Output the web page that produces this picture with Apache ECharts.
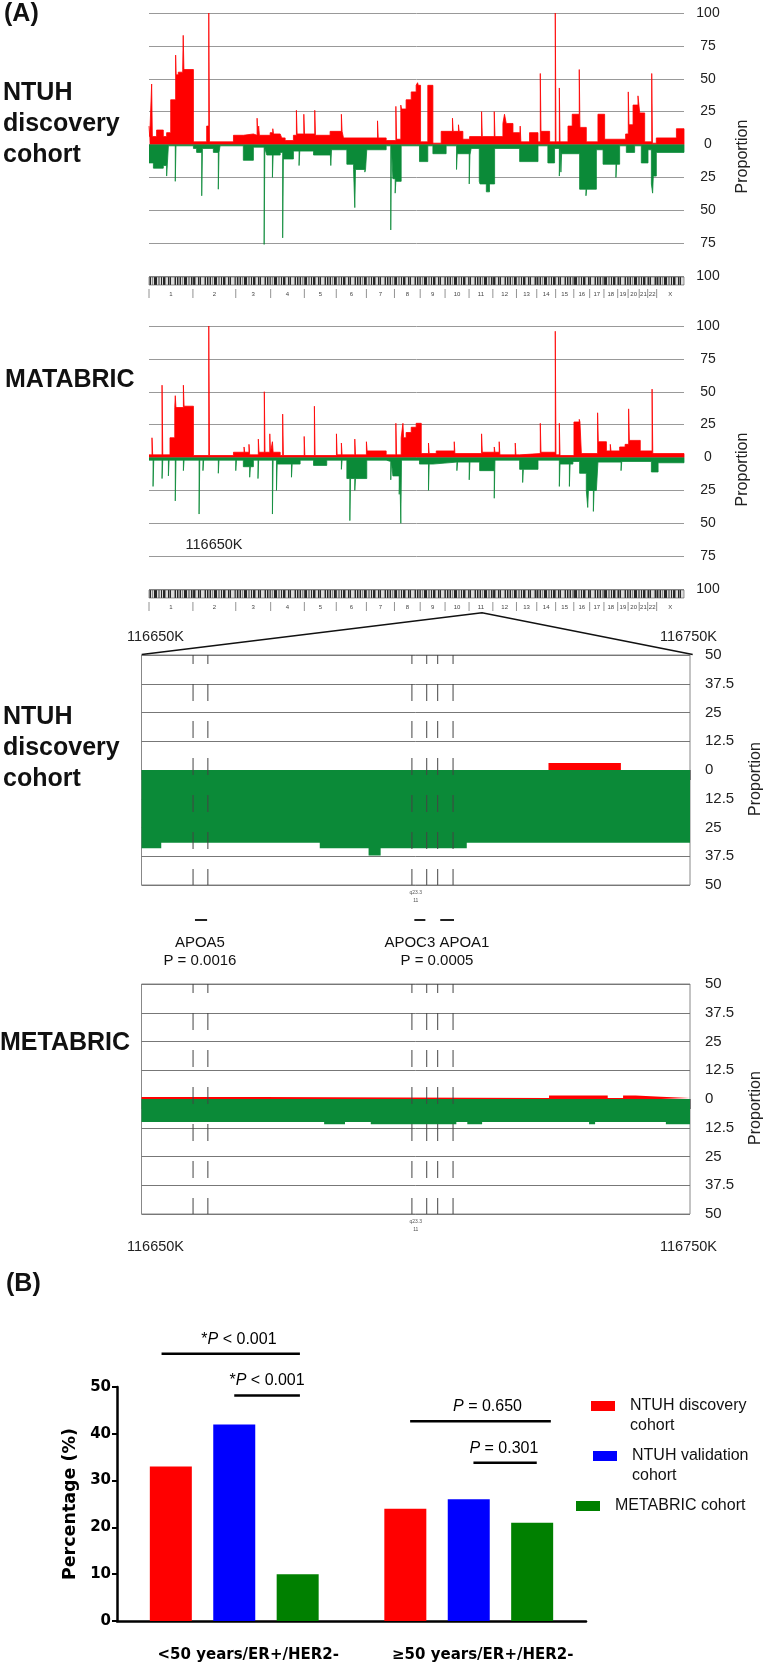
<!DOCTYPE html>
<html>
<head>
<meta charset="utf-8">
<script src="https://cdn.jsdelivr.net/npm/echarts@6/dist/echarts.min.js"></script>
<style>
  html, body { margin: 0; padding: 0; background: #fff; }
  #main { width: 772px; height: 1665px; }
</style>
</head>
<body>
<div id="main"></div>
<script>
// ---------- data ----------
// chromosome lengths (Mb) for the genome-wide x axis
const chromNames = ['1','2','3','4','5','6','7','8','9','10','11','12','13','14','15','16','17','18','19','20','21','22','X'];
const chromLengths = [249,243,198,191,181,171,159,146,141,136,135,134,115,107,103,90,81,78,59,63,48,51,155];

// genome-wide copy number frequency, [cumulative position Mb, proportion %] breakpoints
const ntuhGain = [[0,14],[4,6],[15,46],[19,6],[43,11],[81,6],[100,9],[123,34],[151,68],[154,53],[166,55],[191,57],[194,83],[198,57],[252,2],[327,14],[339,100],[343,2],[479,7],[535,8],[592,7],[613,20],[617,8],[622,14],[626,7],[687,9],[702,12],[706,8],[744,7],[753,5],[772,3],[819,7],[836,26],[840,8],[878,23],[882,8],[940,26],[944,7],[1027,10],[1091,23],[1095,10],[1103,5],[1296,18],[1300,5],[1345,3],[1400,29],[1404,4],[1428,30],[1432,27],[1458,34],[1487,40],[1515,45],[1523,47],[1527,45],[1540,2],[1581,45],[1610,1],[1657,10],[1721,20],[1725,10],[1755,15],[1759,10],[1780,4],[1818,6],[1886,25],[1890,6],[1958,25],[1962,6],[2007,16],[2016,23],[2026,16],[2064,9],[2102,2],[2105,14],[2109,2],[2158,9],[2206,2],[2219,54],[2223,10],[2272,2],[2304,100],[2308,2],[2327,43],[2331,2],[2376,14],[2400,23],[2440,57],[2444,13],[2480,2],[2546,23],[2584,4],[2703,8],[2718,40],[2722,15],[2745,30],[2773,37],[2783,24],[2811,2],[2851,54],[2855,1],[2877,5],[2991,12],[3034,0]];
const ntuhLoss = [[0,14],[25,18],[81,16],[100,24],[110,1],[149,28],[153,1],[252,3],[270,6],[299,39],[303,3],[365,6],[393,34],[397,6],[403,1],[535,12],[592,2],[653,76],[657,3],[668,8],[700,25],[704,8],[744,6],[758,71],[762,11],[819,5],[851,16],[855,5],[933,8],[1027,3],[1031,16],[1035,4],[1122,15],[1160,19],[1167,48],[1171,19],[1224,21],[1228,19],[1235,4],[1345,1],[1371,65],[1375,1],[1383,26],[1396,37],[1400,28],[1430,1],[1534,13],[1581,1],[1610,7],[1685,1],[1744,19],[1748,7],[1816,30],[1820,8],[1827,3],[1873,28],[1877,30],[1913,36],[1931,30],[1960,3],[2102,13],[2206,1],[2262,14],[2300,3],[2327,24],[2331,3],[2336,21],[2340,7],[2442,34],[2478,39],[2482,34],[2537,4],[2575,15],[2648,25],[2652,15],[2669,1],[2707,6],[2754,1],[2792,14],[2830,4],[2849,30],[2856,37],[2860,24],[2877,6],[3034,0]];
const metabricGain = [[0,2],[17,15],[21,2],[74,55],[78,2],[119,15],[146,38],[149,47],[153,38],[195,55],[199,39],[252,1.5],[339,100],[343,1.5],[479,4],[539,8],[543,4],[567,10],[571,2],[620,14],[624,4],[654,50],[658,4],[685,18],[689,4],[700,12],[704,4],[744,1.5],[758,33],[762,1.5],[880,16],[884,1.5],[938,39],[942,1.5],[1063,18],[1067,2],[1091,11],[1095,2],[1167,14],[1171,2],[1233,12],[1237,5],[1345,2],[1400,26],[1404,2],[1430,15],[1440,26],[1444,15],[1458,19],[1487,23],[1515,26],[1544,3],[1585,11],[1589,3],[1629,5],[1731,12],[1735,3],[1886,18],[1890,4],[1958,8],[1962,4],[1986,12],[1990,2],[2077,11],[2081,2],[2102,3],[2219,26],[2223,4],[2304,96],[2308,2],[2327,26],[2331,1.5],[2410,27],[2440,29],[2444,27],[2452,3],[2544,34],[2548,12],[2594,5],[2616,10],[2620,5],[2669,8],[2700,10],[2720,37],[2724,13],[2786,5],[2853,52],[2857,3],[3034,0]];
const metabricLoss = [[0,2],[23,22],[27,2],[74,16],[78,2],[110,14],[114,2],[149,33],[153,2],[195,10],[199,2],[284,43],[288,2],[306,10],[310,2],[393,12],[397,2],[492,10],[496,2],[535,7],[571,15],[575,7],[592,2],[618,16],[622,2],[700,43],[704,2],[723,25],[727,5],[808,15],[812,5],[857,2],[933,6],[1008,2],[1091,9],[1095,2],[1122,16],[1139,48],[1143,16],[1167,25],[1171,16],[1235,2],[1345,3],[1371,17],[1375,3],[1383,14],[1419,28],[1423,14],[1428,50],[1432,2],[1534,5],[1585,25],[1589,5],[1610,3.5],[1746,10],[1750,3.5],[1816,17],[1820,3.5],[1875,10],[1958,31],[1962,2],[2102,9],[2119,19],[2123,9],[2206,2],[2327,22],[2331,5],[2384,22],[2388,5],[2404,3],[2442,12],[2480,25],[2488,38],[2492,25],[2520,41],[2524,25],[2537,24],[2546,3.5],[2677,10],[2681,3],[2849,11],[2887,4],[3034,0]];

// 11q23.3 zoom, position in kb
const zoomStart = 116650;
const zoomEnd = 116750;
const ntuhZoomGain = [[116650,0],[116724.2,3],[116737.4,0],[116750,0]];
const ntuhZoomLoss = [[116650,34],[116653.6,31.6],[116682.5,34],[116691.4,37.2],[116693.6,34],[116709.3,31.6],[116750,0]];
const metabricZoomGain = [[116650,0.9],[116671.9,0.4],[116724.3,1.5],[116735,0.4],[116737.8,1.5],[116740.1,1],[116744.7,0.4],[116750,0]];
const metabricZoomLoss = [[116650,10],[116683.3,11],[116687.1,10],[116691.8,11],[116707.4,10],[116709.4,11],[116712.1,10],[116731.6,11],[116732.7,10],[116745.6,11],[116750,0]];

const geneNames = ['APOA5', 'APOC3', 'APOA1'];
const geneStart = [116659.7, 116699.5, 116704.2];
const geneEnd = [116661.9, 116701.5, 116706.7];
const geneGuides = [116659.4, 116662.1, 116699.3, 116702.0, 116704.0, 116706.8];
const geneLabelPos = [116660.6, 116703.6];
const geneLabelText = ['APOA5\nP = 0.0016', 'APOC3 APOA1\nP = 0.0005'];

// panel B
const groups = ['<50 years/ER+/HER2-', '≥50 years/ER+/HER2-'];
const cohorts = ['NTUH discovery cohort', 'NTUH validation cohort', 'METABRIC cohort'];
const ntuhDiscovery = [33, 24];
const ntuhValidation = [42, 26];
const metabricCohort = [10, 21];
// comparison brackets, x in group units (group i spans i..i+1)
const sigFrom = [0.19, 0.50, 1.25, 1.52];
const sigTo = [0.78, 0.78, 1.85, 1.79];
const sigLevel = [57.1, 48.2, 42.7, 33.8];
const sigTextPos = [0.52, 0.64, 1.58, 1.65];
const sigText = ['*P < 0.001', '*P < 0.001', 'P = 0.650', 'P = 0.301'];

// ---------- helpers ----------
const RED = '#ff0000';
const GREEN = '#0b8a38';
const FONT = 'Liberation Sans, Arial, sans-serif';

const chromStart = [];
chromLengths.reduce((acc, l) => { chromStart.push(acc); return acc + l; }, 0);
const genomeEnd = chromLengths.reduce((a, b) => a + b, 0);
const chromData = chromLengths.map((l, i) => [chromStart[i], chromStart[i] + l]);

// filled step profile (value holds until the next breakpoint)
function stepSeries(points, sign, color, axis, lineWidth) {
  return {
    type: 'line', step: 'end', xAxisIndex: axis, yAxisIndex: axis,
    data: points.map(p => [p[0], sign * p[1]]),
    symbol: 'none', silent: true,
    lineStyle: { color: color, width: lineWidth },
    areaStyle: { color: color, opacity: 1 }
  };
}

// banding texture for the ideogram
const bandCanvas = document.createElement('canvas');
bandCanvas.width = 30;
bandCanvas.height = 8;
const bctx = bandCanvas.getContext('2d');
const bandCodes = 'dlmldddlmmldlddmlldmdlllmdldmm';
const bandColor = { d: '#262626', m: '#8c8c8c', l: '#dcdcdc' };
for (let i = 0; i < bandCodes.length; i++) {
  bctx.fillStyle = bandColor[bandCodes[i]];
  bctx.fillRect(i, 0, 1, 8);
}

function renderIdeogram(params, api) {
  const p0 = api.coord([api.value(0), -100]);
  const p1 = api.coord([api.value(1), -100]);
  const top = p0[1] + 1;
  return {
    type: 'group',
    children: [
      { type: 'rect', shape: { x: p0[0], y: top, width: p1[0] - p0[0], height: 8 },
        style: { fill: { image: bandCanvas, repeat: 'repeat' }, stroke: '#555', lineWidth: 0.6 } },
      { type: 'line', shape: { x1: p0[0], y1: top + 12, x2: p0[0], y2: top + 21 },
        style: { stroke: '#777', lineWidth: 0.8 } },
      { type: 'text', style: { text: chromNames[params.dataIndex], x: (p0[0] + p1[0]) / 2, y: top + 17,
        fontSize: 6, fill: '#444', align: 'center', verticalAlign: 'middle', fontFamily: FONT } }
    ]
  };
}

function renderGuide(params, api) {
  const t = api.coord([api.value(0), 50]);
  const b = api.coord([api.value(0), -50]);
  return {
    type: 'line',
    shape: { x1: t[0], y1: t[1], x2: b[0], y2: b[1] },
    style: { stroke: '#444', lineWidth: 1, lineDash: [17, 20], lineDashOffset: 8 }
  };
}

function renderGene(params, api) {
  const a = api.coord([api.value(0), 1]);
  const b = api.coord([api.value(1), 1]);
  return { type: 'rect', shape: { x: a[0], y: a[1] - 1, width: b[0] - a[0], height: 2 }, style: { fill: '#222' } };
}

function renderGeneLabel(params, api) {
  const p = api.coord([api.value(0), api.value(1)]);
  return {
    type: 'text',
    style: { text: geneLabelText[params.dataIndex], x: p[0], y: p[1], align: 'center', verticalAlign: 'middle',
      fontSize: 15, lineHeight: 18, fill: '#111', fontFamily: FONT }
  };
}

function renderSig(params, api) {
  const a = api.coord([api.value(0), api.value(2)]);
  const b = api.coord([api.value(1), api.value(2)]);
  const t = api.coord([api.value(3), api.value(2)]);
  return {
    type: 'group',
    children: [
      { type: 'line', shape: { x1: a[0], y1: a[1], x2: b[0], y2: b[1] }, style: { stroke: '#000', lineWidth: 2.5 } },
      { type: 'text', style: {
        text: sigText[params.dataIndex].replace('P', '{i|P}'),
        rich: { i: { fontStyle: 'italic', fontSize: 16, fontFamily: FONT, fill: '#000' } },
        x: t[0], y: t[1] - 14.5, align: 'center', verticalAlign: 'middle', fontSize: 16, fill: '#000', fontFamily: FONT } }
    ]
  };
}

// ---------- axes ----------
function genomeX(gi) {
  return { gridIndex: gi, type: 'value', min: 0, max: genomeEnd, show: false };
}
function genomeY(gi) {
  return {
    gridIndex: gi, type: 'value', position: 'right', min: -100, max: 100, interval: 25,
    axisLine: { show: false }, axisTick: { show: false },
    axisLabel: { formatter: v => Math.abs(v), fontSize: 14, color: '#222', align: 'center', margin: 24, fontFamily: FONT },
    splitLine: { lineStyle: { color: '#999', width: 1 } },
    name: 'Proportion', nameLocation: 'middle', nameRotate: 90, nameGap: 51,
    nameTextStyle: { fontSize: 16, color: '#222', fontFamily: FONT, padding: [0, 24, 0, 0] }
  };
}
function zoomX(gi) {
  return {
    gridIndex: gi, type: 'value', min: zoomStart, max: zoomEnd, offset: 4,
    axisLine: { show: false },
    axisTick: { show: true, customValues: [zoomStart, zoomEnd], length: 10, lineStyle: { color: '#777' } },
    axisLabel: { customValues: [116700], formatter: () => 'q23.3\n11', fontSize: 5, lineHeight: 8, margin: 0, color: '#555' },
    splitLine: { show: false }
  };
}
function zoomY(gi) {
  return {
    gridIndex: gi, type: 'value', position: 'right', min: -50, max: 50, interval: 12.5, z: 3,
    axisLine: { show: false }, axisTick: { show: false },
    axisLabel: { formatter: v => Math.abs(v), fontSize: 15, color: '#222', align: 'left', margin: 15, fontFamily: FONT },
    splitLine: { lineStyle: { color: '#777', width: 1 } },
    name: 'Proportion', nameLocation: 'middle', nameRotate: 90, nameGap: 58,
    nameTextStyle: { fontSize: 16, color: '#222', fontFamily: FONT, padding: [0, 18, 0, 0] }
  };
}

// two-line names get an empty first line so the swatch sits level with the first text line
function legendFor(name, left, top) {
  const twoLine = name !== 'METABRIC cohort';
  return {
    data: [name], left: left, top: top, padding: 0, selectedMode: false,
    itemWidth: 24, itemHeight: 10, icon: 'rect',
    formatter: n => twoLine ? '\n' + n.replace(' cohort', '\ncohort') : n,
    textStyle: { fontSize: 16, lineHeight: 20, color: '#111', fontFamily: FONT, padding: [0, 0, 0, 10] }
  };
}

const option = {
  animation: false,
  backgroundColor: '#fff',
  textStyle: { fontFamily: FONT },
  grid: [
    { left: 149, right: 88, top: 13, height: 263 },
    { left: 149, right: 88, top: 326, height: 263 },
    { left: 141.5, right: 79.3, top: 655, height: 230, show: true, borderColor: '#888', borderWidth: 1 },
    { left: 141.5, right: 79.3, top: 920, height: 50 },
    { left: 141.5, right: 79.3, top: 984, height: 230, show: true, borderColor: '#888', borderWidth: 1 },
    { left: 117, right: 186, top: 1387, height: 234 }
  ],
  xAxis: [
    genomeX(0), genomeX(1), zoomX(2),
    { gridIndex: 3, type: 'value', min: zoomStart, max: zoomEnd, show: false },
    zoomX(4),
    {
      gridIndex: 5, type: 'category', data: groups,
      axisLine: { lineStyle: { color: '#000', width: 2.5 } },
      axisTick: { alignWithLabel: true, length: 6, lineStyle: { color: '#000', width: 2 } },
      axisLabel: { interval: 0, fontFamily: 'DejaVu Sans', fontWeight: 'bold', fontSize: 15, color: '#000', margin: 27, padding: [0, 0, 0, 28] }
    },
    { gridIndex: 5, type: 'value', min: 0, max: 2, show: false }
  ],
  yAxis: [
    genomeY(0), genomeY(1), zoomY(2),
    { gridIndex: 3, type: 'value', min: 0, max: 1, show: false },
    zoomY(4),
    {
      gridIndex: 5, type: 'value', min: 0, max: 50, interval: 10,
      axisLine: { show: true, lineStyle: { color: '#000', width: 2.5 } },
      axisTick: { show: true, length: 5, lineStyle: { color: '#000', width: 2 } },
      axisLabel: { fontFamily: 'DejaVu Sans', fontWeight: 'bold', fontSize: 15, color: '#000', margin: 6 },
      splitLine: { show: false },
      name: 'Percentage (%)', nameLocation: 'middle', nameRotate: 90, nameGap: 33,
      nameTextStyle: { fontFamily: 'DejaVu Sans', fontWeight: 'bold', fontSize: 17.5, color: '#000' }
    }
  ],
  legend: [
    legendFor(cohorts[0], 591, 1376),
    legendFor(cohorts[1], 593, 1426),
    legendFor(cohorts[2], 576, 1496)
  ],
  series: [
    // genome-wide NTUH
    stepSeries(ntuhGain, 1, RED, 0, 0.8),
    stepSeries(ntuhLoss, -1, GREEN, 0, 0.8),
    { type: 'custom', xAxisIndex: 0, yAxisIndex: 0, data: chromData, renderItem: renderIdeogram, encode: { x: [0, 1] }, silent: true },
    // genome-wide METABRIC
    stepSeries(metabricGain, 1, RED, 1, 0.8),
    stepSeries(metabricLoss, -1, GREEN, 1, 0.8),
    { type: 'custom', xAxisIndex: 1, yAxisIndex: 1, data: chromData, renderItem: renderIdeogram, encode: { x: [0, 1] }, silent: true },
    // 11q23.3 NTUH
    stepSeries(ntuhZoomGain, 1, RED, 2, 0),
    stepSeries(ntuhZoomLoss, -1, GREEN, 2, 0),
    { type: 'custom', xAxisIndex: 2, yAxisIndex: 2, data: geneGuides.map(g => [g]), renderItem: renderGuide, encode: { x: 0 }, z: 5, silent: true },
    // gene track
    { type: 'custom', xAxisIndex: 3, yAxisIndex: 3, data: geneNames.map((n, i) => [geneStart[i], geneEnd[i]]), renderItem: renderGene, encode: { x: [0, 1] }, silent: true },
    { type: 'custom', xAxisIndex: 3, yAxisIndex: 3, data: geneLabelPos.map(p => [p, 0.36]), renderItem: renderGeneLabel, encode: { x: 0, y: 1 }, silent: true },
    // 11q23.3 METABRIC
    stepSeries(metabricZoomGain, 1, RED, 4, 0),
    stepSeries(metabricZoomLoss, -1, GREEN, 4, 0),
    { type: 'custom', xAxisIndex: 4, yAxisIndex: 4, data: geneGuides.map(g => [g]), renderItem: renderGuide, encode: { x: 0 }, z: 5, silent: true },
    // panel B bars
    { name: cohorts[0], type: 'bar', xAxisIndex: 5, yAxisIndex: 5, data: ntuhDiscovery, barWidth: 42, barGap: '51%', itemStyle: { color: '#ff0000' } },
    { name: cohorts[1], type: 'bar', xAxisIndex: 5, yAxisIndex: 5, data: ntuhValidation, barWidth: 42, barGap: '51%', itemStyle: { color: '#0000ff' } },
    { name: cohorts[2], type: 'bar', xAxisIndex: 5, yAxisIndex: 5, data: metabricCohort, barWidth: 42, barGap: '51%', itemStyle: { color: '#008000' } },
    { type: 'custom', xAxisIndex: 6, yAxisIndex: 5, data: sigFrom.map((f, i) => [f, sigTo[i], sigLevel[i], sigTextPos[i]]), renderItem: renderSig, encode: { x: [0, 1], y: 2 }, silent: true }
  ],
  graphic: [
    { type: 'text', x: 4, y: 14, style: { text: '(A)', fontSize: 25, fontWeight: 'bold', fill: '#111', verticalAlign: 'middle', fontFamily: FONT } },
    { type: 'text', x: 3, y: 124, style: { text: 'NTUH\ndiscovery\ncohort', fontSize: 25, lineHeight: 31, fontWeight: 'bold', fill: '#111', verticalAlign: 'middle', fontFamily: FONT } },
    { type: 'text', x: 5, y: 380, style: { text: 'MATABRIC', fontSize: 25, fontWeight: 'bold', fill: '#111', verticalAlign: 'middle', fontFamily: FONT } },
    { type: 'text', x: 214, y: 545, style: { text: '116650K', fontSize: 14.5, fill: '#222', align: 'center', verticalAlign: 'middle', fontFamily: FONT } },
    { type: 'polyline', shape: { points: [[141.7, 654.5], [482, 612.7], [692.7, 654.5]] }, style: { stroke: '#111', lineWidth: 1.5, fill: null } },
    { type: 'text', x: 155.5, y: 637, style: { text: '116650K', fontSize: 14.5, fill: '#222', align: 'center', verticalAlign: 'middle', fontFamily: FONT } },
    { type: 'text', x: 688.5, y: 637, style: { text: '116750K', fontSize: 14.5, fill: '#222', align: 'center', verticalAlign: 'middle', fontFamily: FONT } },
    { type: 'text', x: 3, y: 748, style: { text: 'NTUH\ndiscovery\ncohort', fontSize: 25, lineHeight: 31, fontWeight: 'bold', fill: '#111', verticalAlign: 'middle', fontFamily: FONT } },
    { type: 'text', x: 0, y: 1043, style: { text: 'METABRIC', fontSize: 25, fontWeight: 'bold', fill: '#111', verticalAlign: 'middle', fontFamily: FONT } },
    { type: 'text', x: 155.5, y: 1247, style: { text: '116650K', fontSize: 14.5, fill: '#222', align: 'center', verticalAlign: 'middle', fontFamily: FONT } },
    { type: 'text', x: 688.5, y: 1247, style: { text: '116750K', fontSize: 14.5, fill: '#222', align: 'center', verticalAlign: 'middle', fontFamily: FONT } },
    { type: 'text', x: 6, y: 1284, style: { text: '(B)', fontSize: 25, fontWeight: 'bold', fill: '#111', verticalAlign: 'middle', fontFamily: FONT } }
  ]
};

const chart = echarts.init(document.getElementById('main'));
chart.setOption(option);
</script>
</body>
</html>
